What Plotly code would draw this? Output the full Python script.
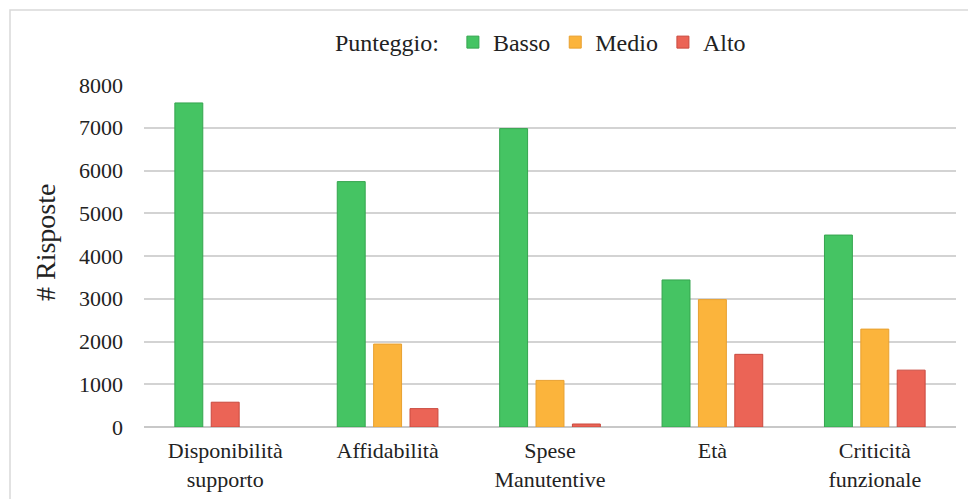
import plotly.graph_objects as go

categories = ["Disponibilità<br>supporto", "Affidabilità", "Spese<br>Manutentive", "Età", "Criticità<br>funzionale"]
basso = [7580, 5740, 6980, 3440, 4490]
medio = [None, 1940, 1090, 2980, 2290]
alto = [580, 430, 70, 1700, 1330]
y_ticks = [0, 1000, 2000, 3000, 4000, 5000, 6000, 7000, 8000]

W = 0.172
STEP = 0.224
colors = {"Basso": ("#45c463", "#35a54f"), "Medio": ("#fbb43c", "#e8a030"), "Alto": ("#eb6456", "#c94a3f")}

fig = go.Figure()
fig.add_trace(go.Bar(name="Basso", x=categories, y=basso, width=W, offset=-STEP - W / 2,
                     marker=dict(color=colors["Basso"][0], line=dict(color=colors["Basso"][1], width=1))))
fig.add_trace(go.Bar(name="Medio", x=categories, y=medio, width=W, offset=-W / 2,
                     marker=dict(color=colors["Medio"][0], line=dict(color=colors["Medio"][1], width=1))))
alto_offsets = [(-W / 2 if m is None else STEP - W / 2) for m in medio]
fig.add_trace(go.Bar(name="Alto", x=categories, y=alto, width=W, offset=alto_offsets,
                     marker=dict(color=colors["Alto"][0], line=dict(color=colors["Alto"][1], width=1))))

FF = "Liberation Serif, Times New Roman, serif"

fig.update_layout(
    width=968, height=499,
    margin=dict(l=144, r=12, t=85, b=72),
    paper_bgcolor="white", plot_bgcolor="white",
    barmode="overlay",
    font=dict(family=FF, size=22, color="#222222"),
    showlegend=True,
    legend=dict(orientation="h", x=0.49, xanchor="center", y=1.19, yanchor="top",
                title=dict(text="Punteggio: ", font=dict(size=24, family=FF, color="#222222")),
                font=dict(size=24, family=FF, color="#222222"), itemwidth=30, tracegroupgap=0,
                bgcolor="rgba(0,0,0,0)"),
    xaxis=dict(showgrid=False, showline=False, ticks="", tickfont=dict(size=22, family=FF),
               range=[-0.5, 4.5], ticklabelstandoff=8, automargin=False),
    yaxis=dict(range=[0, 8000], tickvals=y_ticks, showgrid=True, gridcolor="#d3d3d3", gridwidth=1.5,
               zeroline=True, zerolinecolor="#c8c8c8", zerolinewidth=1.5, automargin=False,
               ticks="", tickfont=dict(size=22, family=FF), ticklabelstandoff=20),
    annotations=[dict(text="# Risposte", xref="paper", yref="paper", x=(45 - 144) / 812,
                      y=(427 - 243) / 342, xanchor="center", yanchor="middle", textangle=-90,
                      showarrow=False, font=dict(size=28, family=FF, color="#222222"))],
    shapes=[dict(type="rect", xref="paper", yref="paper",
                 x0=(10 - 144) / 812, x1=1.05, y0=-0.25, y1=(427 - 10) / 342,
                 line=dict(color="#d9d9d9", width=1.5), fillcolor="rgba(0,0,0,0)", layer="below")],
)

fig.write_html("out.html")
